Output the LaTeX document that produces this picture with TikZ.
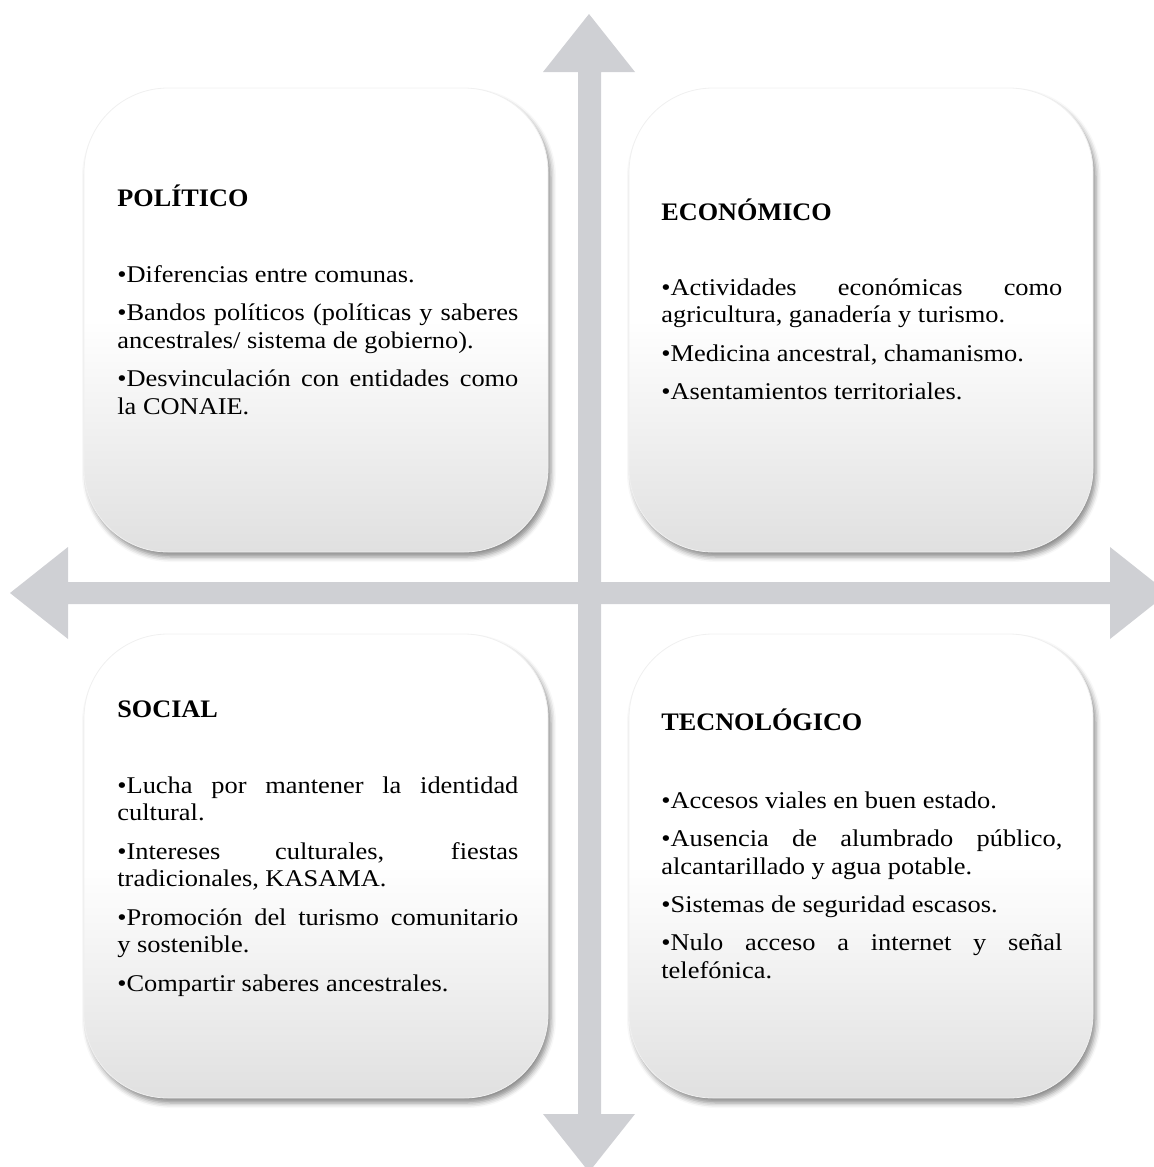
\documentclass[tikz,border=0pt]{standalone}
\usepackage{fontspec}
\setmainfont{Liberation Serif}
\newfontfamily\bodyfont[FakeStretch=1.10]{Liberation Serif}
\newfontfamily\headfont[FakeStretch=1.04]{Liberation Serif}
\usepackage{xcolor}
\usepackage{tikz}
\usetikzlibrary{shadows.blur}

\definecolor{axisgray}{RGB}{207,208,212}
\definecolor{boxgray}{RGB}{224,224,224}
\pgfdeclareverticalshading{boxshade}{100bp}{color(0bp)=(boxgray); color(25bp)=(boxgray); color(50bp)=(white); color(100bp)=(white)}

\newcommand{\bodyset}{\setlength{\baselineskip}{13.85pt}\setlength{\parskip}{5.3pt}%
  \hyphenpenalty=10000 \tolerance=10000 \hbadness=10000 }

\begin{document}
\begin{tikzpicture}[x=0.5pt, y=-0.5pt,
  card/.style={rectangle, rounded corners=42pt, minimum width=232pt,
               minimum height=232pt, inner sep=0pt, shade, shading=boxshade,
               draw=gray!12, line width=0.4pt,
               blur shadow={shadow xshift=1.5pt, shadow yshift=-2.5pt,
                            shadow blur radius=2.5pt, shadow opacity=45}},
  head/.style={anchor=base west, inner sep=0pt,
               font=\headfont\fontsize{12.6pt}{15pt}\selectfont\bfseries},
  body/.style={anchor=base west, inner sep=0pt, text width=200.5pt,
               align=justify, execute at begin node=\bodyset,
               font=\bodyfont\fontsize{12pt}{13.85pt}\selectfont}
]
\useasboundingbox (0,0) rectangle (1154,1167);
\clip (0,0) rectangle (1154,1167);

% Axes
\fill[axisgray] (589,14) -- (635,72) -- (601,72) -- (601,1114) -- (635,1114)
  -- (589,1172) -- (543,1114) -- (578,1114) -- (578,72) -- (543,72) -- cycle;
\fill[axisgray] (10,593) -- (68,547) -- (68,582) -- (1110,582) -- (1110,547)
  -- (1168,593) -- (1110,639) -- (1110,604) -- (68,604) -- (68,639) -- cycle;

% Quadrants
\node[card] at (316,320) (polit) {};
\node[card] at (861,320) (econo) {};
\node[card] at (316,866) (socia) {};
\node[card] at (861,866) (tecno) {};

% Titles
\node[head] at (117,206) (polit_t) {POLÍTICO};
\node[head] at (661,220) (econo_t) {ECONÓMICO};
\node[head] at (117,717) (socia_t) {SOCIAL};
\node[head] at (661,730) (tecno_t) {TECNOLÓGICO};

% Items
\node[body] at (117,282) (polit_b) {•Diferencias entre comunas.\par
  •Bandos políticos (políticas y saberes\linebreak ancestrales/ sistema de gobierno).\par
  •Desvinculación con entidades como\linebreak la CONAIE.};
\node[body] at (661,295) (econo_b) {•Actividades económicas como\linebreak agricultura, ganadería y turismo.\par
  •Medicina ancestral, chamanismo.\par
  •Asentamientos territoriales.};
\node[body] at (117,793) (socia_b) {•Lucha por mantener la identidad\linebreak cultural.\par
  •Intereses culturales, fiestas\linebreak tradicionales, KASAMA.\par
  •Promoción del turismo comunitario\linebreak y sostenible.\par
  •Compartir saberes ancestrales.};
\node[body] at (661,808) (tecno_b) {•Accesos viales en buen estado.\par
  •Ausencia de alumbrado público,\linebreak alcantarillado y agua potable.\par
  •Sistemas de seguridad escasos.\par
  •Nulo acceso a internet y señal\linebreak telefónica.};
\end{tikzpicture}
\end{document}
